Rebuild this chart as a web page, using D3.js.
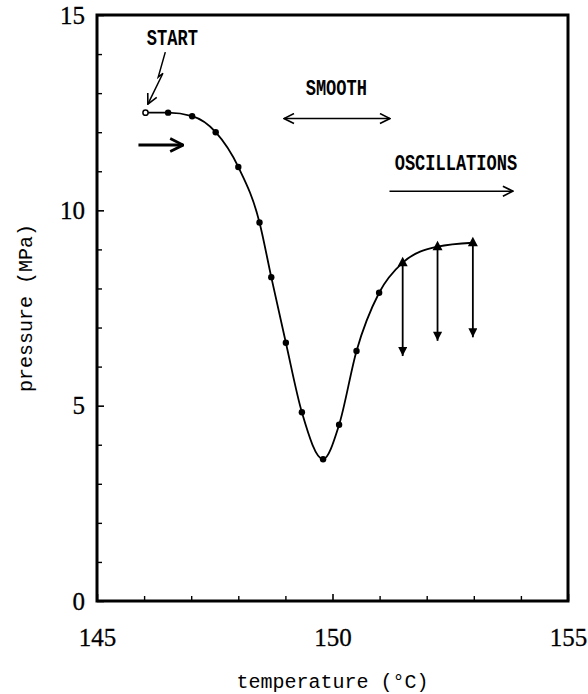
<!DOCTYPE html>
<html>
<head>
<meta charset="utf-8">
<script src="https://cdn.jsdelivr.net/npm/d3@7"></script>
<style>
  html, body { margin: 0; padding: 0; background: #fff; }
  svg { display: block; }
</style>
</head>
<body>
<svg id="chart" width="588" height="694"></svg>
<script>
// ---- data ----
const temperature = [146.03, 146.51, 147.02, 147.52, 148.00, 148.45, 148.70, 149.01, 149.35, 149.80, 150.14, 150.51, 150.99, 151.49, 152.23, 152.98];
const pressure    = [12.50, 12.50, 12.41, 12.00, 11.11, 9.69, 8.29, 6.61, 4.83, 3.63, 4.51, 6.40, 7.89, 8.66, 9.07, 9.17];
const markerType  = ["open", "dot", "dot", "dot", "dot", "dot", "dot", "dot", "dot", "dot", "dot", "dot", "dot", "tri", "tri", "tri"];
const oscTemp = [151.49, 152.23, 152.98];
const oscHigh = [8.66, 9.07, 9.17];
const oscLow  = [6.27, 6.66, 6.75];
const xTickLabels = [145, 150, 155];
const yTickLabels = [0, 5, 10, 15];
const xMinorTicks = [146, 147, 148, 149, 151, 152, 153, 154];
const yMinorTicks = [1, 2, 3, 4, 6, 7, 8, 9, 11, 12, 13, 14];

const svg = d3.select("#chart");
const mLeft = 97, mRight = 568, mTop = 15, mBottom = 601;
const x = d3.scaleLinear().domain([145, 155]).range([mLeft, mRight]);
const y = d3.scaleLinear().domain([0, 15]).range([mBottom, mTop]);

// marker defs
const defs = svg.append("defs");
defs.append("marker").attr("id", "thin").attr("viewBox", "0 0 12 12").attr("refX", 11).attr("refY", 6)
  .attr("markerWidth", 12).attr("markerHeight", 12).attr("markerUnits", "userSpaceOnUse").attr("orient", "auto-start-reverse")
  .append("path").attr("d", "M1,1 L11,6 L1,11").attr("fill", "none").attr("stroke", "#000").attr("stroke-width", 1.6);
defs.append("marker").attr("id", "bold").attr("viewBox", "0 0 16 16").attr("refX", 15).attr("refY", 8)
  .attr("markerWidth", 16).attr("markerHeight", 16).attr("markerUnits", "userSpaceOnUse").attr("orient", "auto")
  .append("path").attr("d", "M2,1.5 L15,8 L2,14.5").attr("fill", "none").attr("stroke", "#000").attr("stroke-width", 2.8);
defs.append("marker").attr("id", "solid").attr("viewBox", "0 0 10 10").attr("refX", 10).attr("refY", 5)
  .attr("markerWidth", 10).attr("markerHeight", 9).attr("markerUnits", "userSpaceOnUse").attr("orient", "auto")
  .append("path").attr("d", "M0,0 L10,5 L0,10 Z").attr("fill", "#000");

// frame
svg.append("rect").attr("x", mLeft).attr("y", mTop).attr("width", mRight - mLeft).attr("height", mBottom - mTop)
  .attr("fill", "none").attr("stroke", "#000").attr("stroke-width", 3);

// axes ticks (inward)
const tickFont = "'Liberation Serif', serif";
const xAxis = d3.axisBottom(x).tickValues(xTickLabels).tickSize(-7).tickPadding(27).tickFormat(d3.format("d"));
const gx = svg.append("g").attr("transform", `translate(0,${mBottom})`).call(xAxis);
gx.select(".domain").remove();
gx.selectAll(".tick line").attr("stroke-width", 1.6);
gx.selectAll(".tick text").attr("font-family", tickFont).attr("font-size", 25).attr("fill", "#000")
  .attr("stroke", "#000").attr("stroke-width", 0.3);
svg.append("g").attr("transform", `translate(0,${mBottom})`)
  .call(d3.axisBottom(x).tickValues(xMinorTicks).tickSize(-5).tickFormat(""))
  .call(g => g.select(".domain").remove())
  .selectAll(".tick line").attr("stroke-width", 1.4);

const yAxis = d3.axisLeft(y).tickValues(yTickLabels).tickSize(-7).tickPadding(12).tickFormat(d3.format("d"));
const gy = svg.append("g").attr("transform", `translate(${mLeft},0)`).call(yAxis);
gy.select(".domain").remove();
gy.selectAll(".tick line").attr("stroke-width", 1.6);
gy.selectAll(".tick text").attr("font-family", tickFont).attr("font-size", 25).attr("fill", "#000")
  .attr("stroke", "#000").attr("stroke-width", 0.3);
svg.append("g").attr("transform", `translate(${mLeft},0)`)
  .call(d3.axisLeft(y).tickValues(yMinorTicks).tickSize(-5).tickFormat(""))
  .call(g => g.select(".domain").remove())
  .selectAll(".tick line").attr("stroke-width", 1.4);

// axis titles
svg.append("text").attr("x", (mLeft + mRight) / 2).attr("y", 688).attr("text-anchor", "middle")
  .attr("font-family", "'Liberation Mono', monospace").attr("font-size", 20).text("temperature (°C)");
svg.append("text").attr("transform", `translate(32,${(mTop + mBottom) / 2}) rotate(-90)`).attr("text-anchor", "middle")
  .attr("font-family", "'Liberation Mono', monospace").attr("font-size", 20).text("pressure (MPa)");

// curve
const pts = temperature.map((t, i) => [t, pressure[i]]);
const line = d3.line().x(d => x(d[0])).y(d => y(d[1])).curve(d3.curveMonotoneX);
svg.append("path").datum(pts).attr("d", line).attr("fill", "none").attr("stroke", "#000").attr("stroke-width", 1.8);

// oscillation arrows
oscTemp.forEach((t, i) => {
  svg.append("line").attr("x1", x(t)).attr("x2", x(t)).attr("y1", y(oscHigh[i])).attr("y2", y(oscLow[i]))
    .attr("stroke", "#000").attr("stroke-width", 1.8).attr("marker-end", "url(#solid)");
});

// markers
pts.forEach((d, i) => {
  const cx = x(d[0]), cy = y(d[1]);
  if (markerType[i] === "open") {
    svg.append("circle").attr("cx", cx).attr("cy", cy).attr("r", 2.6).attr("fill", "#fff").attr("stroke", "#000").attr("stroke-width", 1.5);
  } else if (markerType[i] === "dot") {
    svg.append("circle").attr("cx", cx).attr("cy", cy).attr("r", 3.2).attr("fill", "#000");
  } else {
    svg.append("path").attr("d", `M${cx},${cy - 6} L${cx + 5},${cy + 3.5} L${cx - 5},${cy + 3.5} Z`).attr("fill", "#000");
  }
});

// annotations
const annoFont = "'Liberation Mono', monospace";
function label(txt, t, p) {
  svg.append("text").attr("transform", `translate(${x(t)},${y(p)}) scale(1,1.25)`)
    .attr("text-anchor", "middle").attr("font-family", annoFont).attr("font-weight", "bold")
    .attr("font-size", 17).text(txt);
}
label("START", 146.60, 14.23);
label("SMOOTH", 150.08, 12.94);
label("OSCILLATIONS", 152.62, 11.02);

// SMOOTH double arrow
svg.append("line").attr("x1", x(148.97)).attr("x2", x(151.22)).attr("y1", y(12.35)).attr("y2", y(12.35))
  .attr("stroke", "#000").attr("stroke-width", 1.6).attr("marker-start", "url(#thin)").attr("marker-end", "url(#thin)");
// OSCILLATIONS arrow
svg.append("line").attr("x1", x(151.21)).attr("x2", x(153.83)).attr("y1", y(10.49)).attr("y2", y(10.49))
  .attr("stroke", "#000").attr("stroke-width", 1.6).attr("marker-end", "url(#thin)");
// bold direction arrow
svg.append("line").attr("x1", x(145.88)).attr("x2", x(146.83)).attr("y1", y(11.67)).attr("y2", y(11.67))
  .attr("stroke", "#000").attr("stroke-width", 3).attr("marker-end", "url(#bold)");
// lightning arrow from START to open circle
const bolt = [[146.45, 14.05], [146.30, 13.41], [146.40, 13.51], [146.08, 12.72]];
svg.append("path").datum(bolt).attr("d", d3.line().x(d => x(d[0])).y(d => y(d[1])))
  .attr("fill", "none").attr("stroke", "#000").attr("stroke-width", 1.5).attr("marker-end", "url(#thin)");
</script>
</body>
</html>
